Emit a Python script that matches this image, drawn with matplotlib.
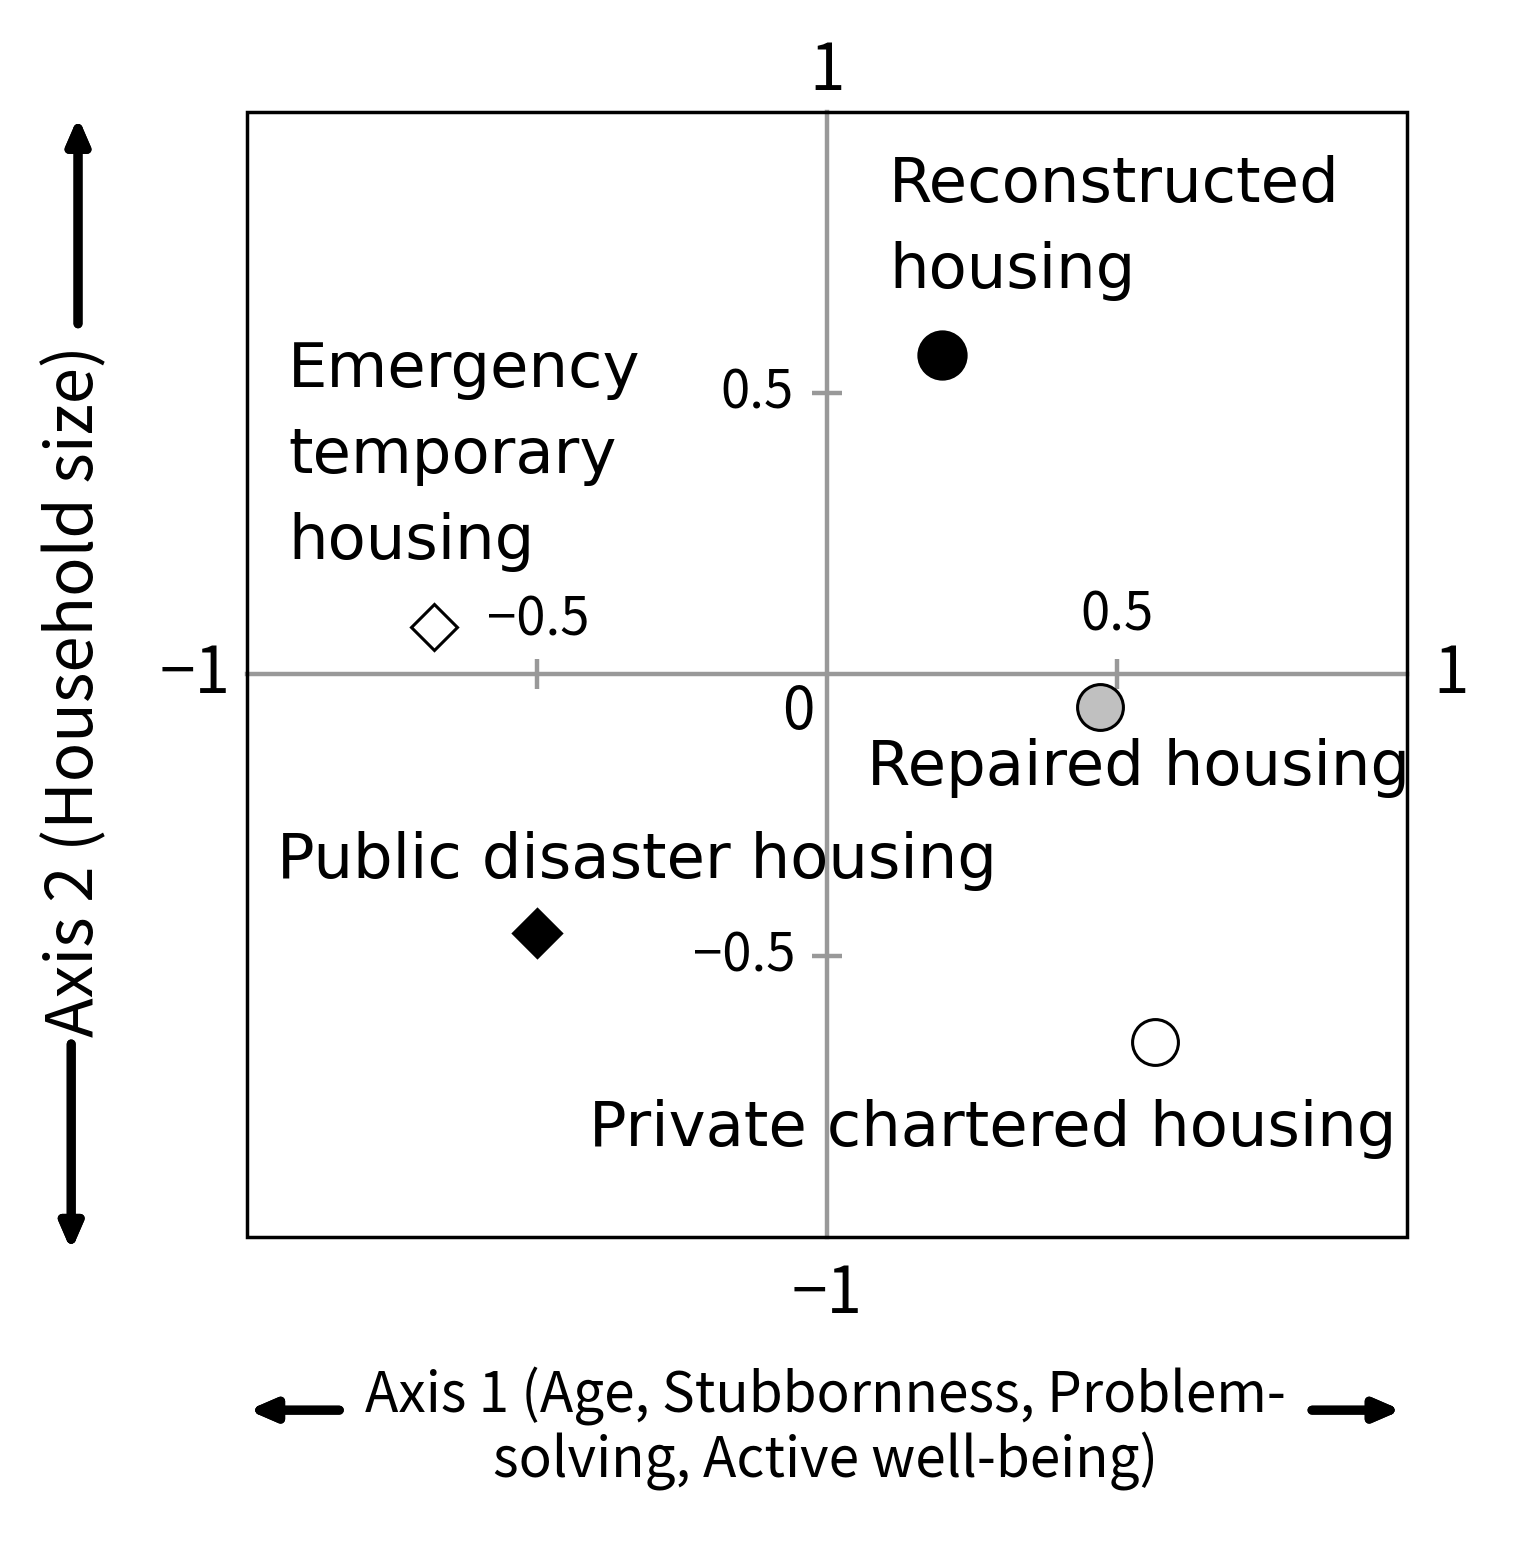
import matplotlib.pyplot as plt
from matplotlib.patches import Rectangle

# data
names = ["Reconstructed\nhousing", "Emergency\ntemporary\nhousing", "Repaired housing",
         "Public disaster housing", "Private chartered housing"]
axis1 = [0.198, -0.678, 0.471, -0.500, 0.566]
axis2 = [0.568, 0.084, -0.057, -0.459, -0.653]
markers = ["o", "D", "o", "D", "o"]
faces = ["black", "white", "#c0c0c0", "black", "white"]
sizes = [34, 23, 33, 24, 33]
# where each label sits (left edge, vertical anchor)
label_x = [0.107, -0.929, 0.069, -0.948, -0.41]
label_y = [0.923, 0.594, -0.167, -0.331, -0.808]
label_va = ["top", "top", "center", "center", "center"]

label_font = ["DejaVu Sans"]
num_font = ["Noto Sans CJK JP", "DejaVu Sans"]
gray = "#999999"

fig = plt.figure(figsize=(15.15, 15.42), dpi=100)
ax = fig.add_axes([0.163, 0.1978, 0.7657, 0.7296])
ax.set_xlim(-1, 1)
ax.set_ylim(-1, 1)

for sp in ["left", "bottom"]:
    ax.spines[sp].set_position("zero")
    ax.spines[sp].set_color(gray)
    ax.spines[sp].set_linewidth(3.2)
for sp in ["top", "right"]:
    ax.spines[sp].set_visible(False)
ax.add_patch(Rectangle((0, 0), 1, 1, transform=ax.transAxes, fill=False,
                       edgecolor="black", linewidth=2.5, zorder=5, clip_on=False))

ax.set_xticks([-0.5, 0.5])
ax.set_yticks([-0.5, 0.5])
ax.tick_params(direction="inout", length=22, width=3.2, color=gray,
               labelbottom=False, labelleft=False)

tick_fs = 38
ax.text(-0.057, 0.5, "0.5", ha="right", va="center", fontsize=tick_fs, family=num_font)
ax.text(-0.054, -0.5, "\u22120.5", ha="right", va="center", fontsize=tick_fs, family=num_font)
ax.text(0.5, 0.105, "0.5", ha="center", va="center", fontsize=tick_fs, family=num_font)
ax.text(-0.497, 0.096, "\u22120.5", ha="center", va="center", fontsize=tick_fs, family=num_font)
ax.text(-0.05, -0.068, "0", ha="center", va="center", fontsize=42, family=num_font)

big_fs = 46
ax.text(0, 1.072, "1", ha="center", va="center", fontsize=big_fs, family=num_font)
ax.text(0, -1.103, "\u22121", ha="center", va="center", fontsize=big_fs, family=num_font)
ax.text(-1.028, 0, "\u22121", ha="right", va="center", fontsize=big_fs, family=num_font)
ax.text(1.045, 0, "1", ha="left", va="center", fontsize=big_fs, family=num_font)

for i in range(len(names)):
    ax.plot(axis1[i], axis2[i], marker=markers[i], markersize=sizes[i],
            markerfacecolor=faces[i], markeredgecolor="black", markeredgewidth=2.2,
            linestyle="none", zorder=6)
    ax.text(label_x[i], label_y[i], names[i], ha="left", va=label_va[i],
            fontsize=45, family=label_font, linespacing=1.55, zorder=7)

# axis titles with arrows
fig.text(0.0495, 0.552, "Axis 2 (Household size)", rotation=90, ha="center", va="center",
         fontsize=47, family=num_font)
fig.text(0.545, 0.0733, "Axis 1 (Age, Stubbornness, Problem-\nsolving, Active well-being)",
         ha="center", va="center", fontsize=39.5, family=num_font, linespacing=1.12)

arrow = dict(arrowstyle="-|>,head_length=1.5,head_width=0.65", color="black",
             linewidth=6.5, shrinkA=0, shrinkB=0)
fig.add_artist(plt.annotate("", xy=(0.0515, 0.924), xytext=(0.0515, 0.79),
                            xycoords="figure fraction", arrowprops=arrow))
fig.add_artist(plt.annotate("", xy=(0.0470, 0.189), xytext=(0.0470, 0.323),
                            xycoords="figure fraction", arrowprops=arrow))
fig.add_artist(plt.annotate("", xy=(0.164, 0.0855), xytext=(0.224, 0.0855),
                            xycoords="figure fraction", arrowprops=arrow))
fig.add_artist(plt.annotate("", xy=(0.925, 0.0855), xytext=(0.866, 0.0855),
                            xycoords="figure fraction", arrowprops=arrow))

fig.savefig("out.png", dpi=100)
